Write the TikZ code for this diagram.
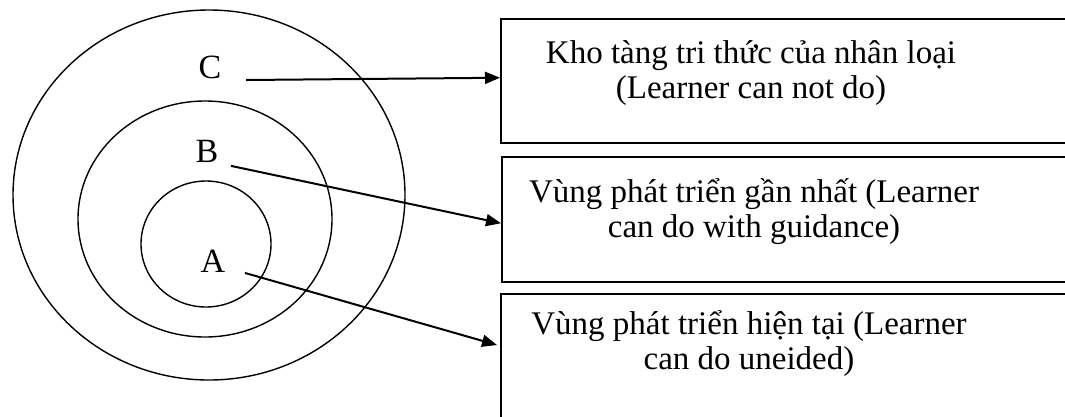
\documentclass[tikz,border=0pt]{standalone}
\usepackage{fontspec}
\setmainfont{Liberation Serif}
\usetikzlibrary{arrows.meta}
\begin{document}
\begin{tikzpicture}[x=1pt, y=-1pt, line width=1.4pt,
		lab/.style = {font=\fontsize{34}{36}\selectfont, inner sep=0pt},
		txt/.style = {font=\fontsize{33}{35}\selectfont, align=center, inner sep=0pt},
		box/.style = {draw, line width=1.5pt, minimum width=700pt, anchor=north west, inner sep=0pt},
		arr/.style = {line width=2pt, -{Triangle[length=15pt,width=12pt]}}]
			\path[use as bounding box, clip] (0,0) rectangle (1065,416);
			% the three rings
			\draw (209,195) ellipse [x radius=196, y radius=185];
			\draw (205,219) ellipse [x radius=127, y radius=118];
			\draw (206,244) ellipse [x radius=65, y radius=63];
			\node[lab] (C) at (210,67) {C};
			\node[lab] (B) at (207,151) {B};
			\node[lab] (A) at (213,261) {A};
			% boxes on the right (run past the edge)
			\node[box, minimum height=124pt] (kho) at (500,18) {};
			\node[box, minimum height=125pt] (gan) at (501,156) {};
			\node[box, minimum height=200pt] (hien) at (500,293) {};
			\node[txt] (t1) at (751,73) {Kho tàng tri thức của nhân loại\\(Learner can not do)};
			\node[txt] (t2) at (754,212) {Vùng phát triển gần nhất (Learner\\can do with guidance)};
			\node[txt] (t3) at (749,344) {Vùng phát triển hiện tại (Learner\\can do uneided)};
			\draw[arr] ([xshift=24pt,yshift=-13pt]C.east) -- ([yshift=3pt]kho.west);
			\draw[arr] ([xshift=12pt,yshift=-3pt]B.south east) -- ([yshift=-4pt]gan.west);
			\draw[arr] ([xshift=19pt,yshift=0pt]A.south east) -- ([xshift=-3pt,yshift=-52pt]hien.north west);
		\end{tikzpicture}
\end{document}
